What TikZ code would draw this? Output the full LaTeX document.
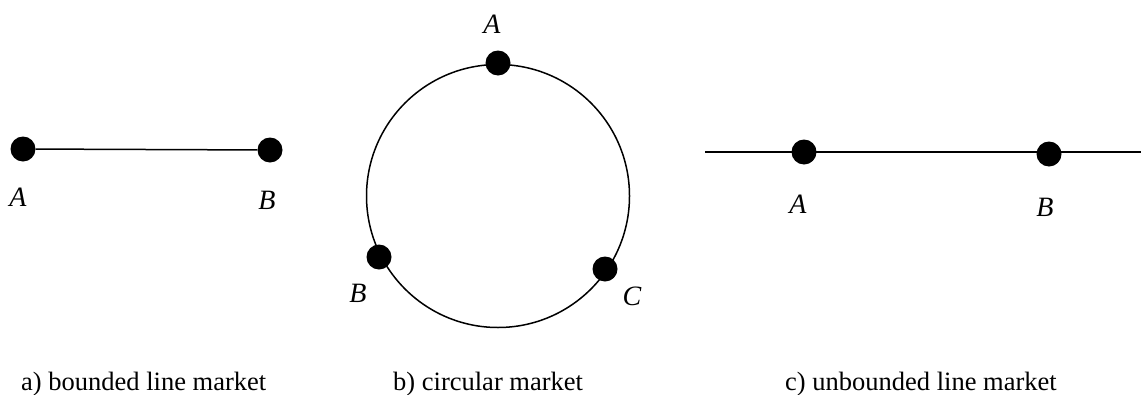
\documentclass[tikz,border=0pt]{standalone}
\usepackage{fontspec}
\setmainfont{Liberation Serif}
\begin{document}
\begin{tikzpicture}[x=1pt,y=-1pt,
  dot/.style={circle,fill=black,inner sep=0pt,minimum size=25pt},
  lbl/.style={font=\fontsize{28}{32}\selectfont\itshape,inner sep=0pt},
  captext/.style={font=\fontsize{26.5}{30}\selectfont,inner sep=0pt,anchor=base west},
  ln/.style={line width=1.5pt}]
\useasboundingbox (0,0) rectangle (1141,394);
% a) bounded line
\node[dot] (a1) at (23,149) {};
\node[dot] (a2) at (270,150) {};
\draw[ln] (a1) -- (a2);
\node[lbl] (aA) at (18,197) {A};
\node[lbl] (aB) at (267,200) {B};
\node[captext] (capa) at (21,390) {a) bounded line market};
% b) circular
\node[circle,draw,line width=1.5pt,minimum size=263pt,inner sep=0pt] (circ) at (498,196) {};
\node[dot] (bA) at (498,63) {};
\node[dot] (bB) at (379,257) {};
\node[dot] (bC) at (605,269) {};
\node[lbl] (lA) at (492,24) {A};
\node[lbl] (lB) at (358,293) {B};
\node[lbl] (lC) at (632,296) {C};
\node[captext] (capb) at (393,390) {b) circular market};
% c) unbounded line
\coordinate (cl) at (705,152);
\coordinate (cr) at (1141,152);
\draw[ln] (cl) -- (cr);
\node[dot] (c1) at (804,152) {};
\node[dot] (c2) at (1049,154) {};
\node[lbl] (cA) at (798,204) {A};
\node[lbl] (cB) at (1045,207) {B};
\node[captext] (capc) at (785,390) {c) unbounded line market};
\end{tikzpicture}
\end{document}
